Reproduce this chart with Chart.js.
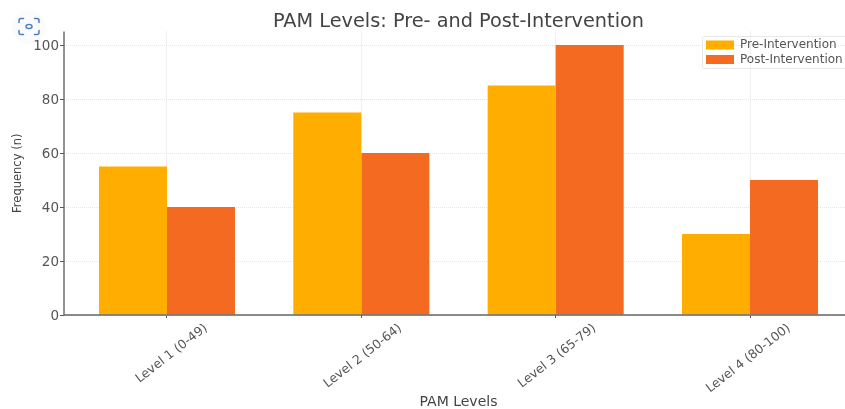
<!DOCTYPE html>
<html><head><meta charset="utf-8">
<style>
html,body{margin:0;padding:0;background:#fff;width:845px;height:409px;overflow:hidden}
#wrap{position:relative;width:845px;height:409px;overflow:hidden}
canvas{display:block;position:relative;filter:blur(0.5px)}
#lens{position:absolute;left:12px;top:10px;width:34px;height:34px}
</style>
<script src="https://cdn.jsdelivr.net/npm/chart.js@4"></script>
</head><body>
<div id="wrap">
<svg id="lens" viewBox="0 0 34 34"><circle cx="17" cy="17" r="17" fill="#fbfbfd"/>
<g fill="none" stroke="#4a7fc1" stroke-width="1.5" stroke-linecap="round"><path d="M7 12.5v-2a2 2 0 0 1 2-2h2.5M22.5 8.5h2.5a2 2 0 0 1 2 2v2M27 20.5v2a2 2 0 0 1-2 2h-2.5M11.500 24.500h-2.500a2 2 0 0 1-2-2v-2"/><ellipse cx="17" cy="16.500" rx="3" ry="2"/></g></svg>
<canvas id="c" width="853" height="409"></canvas>
</div>
<script>
const categories = ["Level 1 (0-49)","Level 2 (50-64)","Level 3 (65-79)","Level 4 (80-100)"];
const preIntervention = [55,75,85,30];
const postIntervention = [40,60,100,50];
const positions = [0,1,2,3];
const FONT = "'DejaVu Sans'";
const TXT = '#555555';

const legendPlacer = {
  id:'legendPlacer',
  afterLayout(chart){
    const l = chart.legend;
    const dx = 703.5 - l.left, dy = 36.5 - l.top;
    l.left += dx; l.right += dx; l.top += dy; l.bottom += dy;
    l.legendHitBoxes.forEach(b=>{b.left += dx; b.top += dy;});
  },
  beforeDraw(chart){
    const {ctx} = chart;
    ctx.save();
    ctx.fillStyle='#ffffff';
    ctx.strokeStyle='#e8e8e8';
    ctx.lineWidth=1;
    ctx.beginPath();
    ctx.roundRect(702.5,36.5,146,32,2);
    ctx.fill();ctx.stroke();
    ctx.restore();
  }
};
const axisLines = {
  id:'axisLines',
  afterDatasetsDraw(chart){
    const {ctx,chartArea:a} = chart;
    ctx.save();
    ctx.strokeStyle='#666666';
    ctx.lineWidth=1.4;
    ctx.beginPath();
    ctx.moveTo(a.left,a.top);ctx.lineTo(a.left,a.bottom);ctx.lineTo(a.right,a.bottom);
    ctx.stroke();
    ctx.restore();
  }
};

new Chart(document.getElementById('c'),{
  type:'bar',
  data:{datasets:[
    {label:'Pre-Intervention',data:positions.map((x,i)=>({x,y:preIntervention[i]})),backgroundColor:'#ffae00',categoryPercentage:0.7,barPercentage:1,borderWidth:0},
    {label:'Post-Intervention',data:positions.map((x,i)=>({x,y:postIntervention[i]})),backgroundColor:'#f46a21',categoryPercentage:0.7,barPercentage:1,borderWidth:0}
  ]},
  plugins:[legendPlacer,axisLines],
  options:{
    responsive:false,animation:false,
    layout:{padding:0},
    plugins:{
      title:{display:true,fullSize:false,text:'PAM Levels: Pre- and Post-Intervention',color:'#444444',font:{family:FONT,size:19.3,weight:'normal'},padding:{top:10,bottom:-1.66}},
      legend:{position:'chartArea',align:'start',labels:{boxWidth:28,boxHeight:9,padding:2.5,color:TXT,font:{family:FONT,size:12}}},
      tooltip:{enabled:false}
    },
    scales:{
      x:{type:'linear',offset:false,min:-0.53,max:3.53,
        afterFit(s){s.height=94;},
        grid:{offset:false,color:'#e0e0e0',lineWidth:1,tickLength:3,tickColor:'#555555'},
        border:{display:false,dash:[1,1]},
        afterBuildTicks(s){s.ticks=positions.map(v=>({value:v}));},
        ticks:{autoSkip:false,maxRotation:38,minRotation:38,padding:3,labelOffset:39,color:TXT,font:{family:FONT,size:12.5},callback:v=>categories[v]},
        title:{display:true,text:'PAM Levels',color:'#444444',font:{family:FONT,size:14,lineHeight:1},padding:{top:0,bottom:0}}
      },
      y:{min:0,max:105,
        afterFit(s){s.width=64;},
        grid:{color:'#e6e6e6',lineWidth:1,tickLength:4,tickColor:'#555555'},
        border:{display:false,dash:[1,1]},
        afterBuildTicks(s){s.ticks=[0,20,40,60,80,100].map(v=>({value:v}));},
        ticks:{padding:1,labelOffset:1,color:TXT,font:{family:FONT,size:13.5}},
        title:{display:true,text:'Frequency (n)',color:'#444444',font:{family:FONT,size:11.5},padding:{top:11,bottom:0}}
      }
    }
  }
});
</script>
</body></html>
